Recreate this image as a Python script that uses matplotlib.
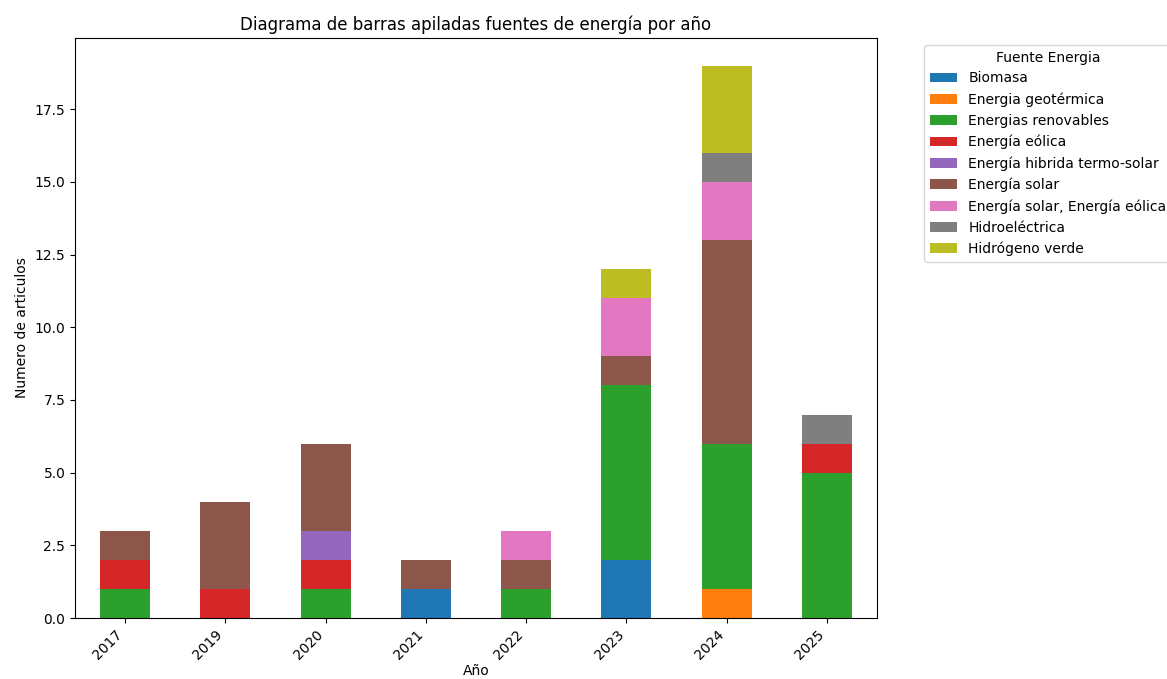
import matplotlib
matplotlib.use("Agg")
import matplotlib.pyplot as plt
import numpy as np

years = ["2017", "2019", "2020", "2021", "2022", "2023", "2024", "2025"]
sources = ["Biomasa", "Energia geotérmica", "Energias renovables", "Energía eólica",
           "Energía hibrida termo-solar", "Energía solar", "Energía solar, Energía eólica",
           "Hidroeléctrica", "Hidrógeno verde"]
biomasa       = [0, 0, 0, 1, 0, 2, 0, 0]
geotermica    = [0, 0, 0, 0, 0, 0, 1, 0]
renovables    = [1, 0, 1, 0, 1, 6, 5, 5]
eolica        = [1, 1, 1, 0, 0, 0, 0, 1]
hibrida       = [0, 0, 1, 0, 0, 0, 0, 0]
solar         = [1, 3, 3, 1, 1, 1, 7, 0]
solar_eolica  = [0, 0, 0, 0, 1, 2, 2, 0]
hidroelectrica= [0, 0, 0, 0, 0, 0, 1, 1]
hidrogeno     = [0, 0, 0, 0, 0, 1, 3, 0]

series = [biomasa, geotermica, renovables, eolica, hibrida, solar, solar_eolica, hidroelectrica, hidrogeno]
colors = ["#1f77b4", "#ff7f0e", "#2ca02c", "#d62728", "#9467bd", "#8c564b", "#e377c2", "#7f7f7f", "#bcbd22"]

fig = plt.figure(figsize=(11.67, 6.79), dpi=100)
ax = fig.add_axes([0.0643, 0.0898, 0.6872, 0.8542])
x = np.arange(len(years))
bottom = np.zeros(len(years))
for name, vals, c in zip(sources, series, colors):
    v = np.array(vals, dtype=float)
    ax.bar(x, v, 0.5, bottom=bottom, color=c, label=name)
    bottom += v
ax.set_xlim(-0.5, len(years) - 0.5)
ax.set_ylim(0, bottom.max() * 1.05)
ax.set_xticks(x)
ax.set_xticklabels(years, rotation=45, ha="right")
ax.set_yticks(np.arange(0, 18, 2.5))
ax.set_xlabel("Año", labelpad=1)
ax.set_ylabel("Numero de articulos")
ax.set_title("Diagrama de barras apiladas fuentes de energía por año", fontsize=12)
ax.legend(title="Fuente Energia", bbox_to_anchor=(1.05, 1), loc="upper left")
fig.savefig("out.png", dpi=100)
